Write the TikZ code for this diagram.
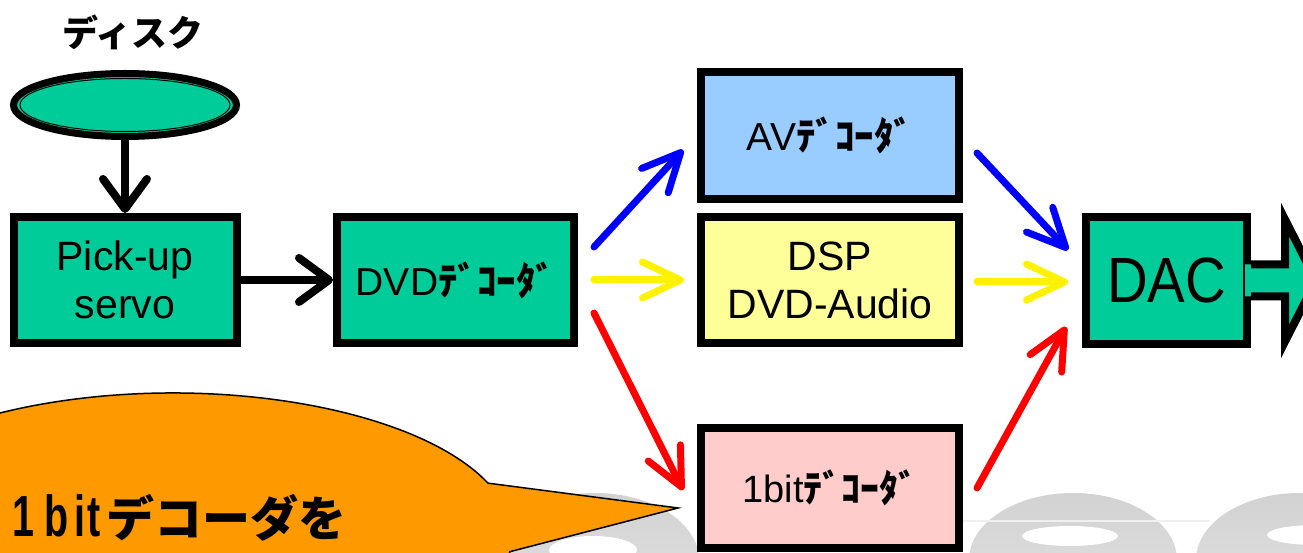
\documentclass[tikz,border=0pt]{standalone}
\usepackage{fontspec}
\usetikzlibrary{shapes.geometric,arrows.meta,calc}
\setmainfont{Liberation Sans}
\newfontfamily\jp{Noto Sans CJK JP}
\newfontfamily\cond[FakeStretch=0.68]{Liberation Sans}
\newfontfamily\dacfont[FakeStretch=0.88]{Liberation Sans}

\definecolor{boxgreen}{HTML}{00CC99}
\definecolor{avblue}{HTML}{99CCFF}
\definecolor{dspyellow}{HTML}{FFFF99}
\definecolor{bitpink}{HTML}{FFCCCC}
\definecolor{calloutorange}{HTML}{FF9900}
\definecolor{ringgreytop}{HTML}{D2D2D2}
\definecolor{ringgreybot}{HTML}{E4E4E4}

\tikzset{
  blockbox/.style={draw=black, line width=8pt, rectangle, inner sep=0pt,
    align=center, font=\fontsize{41}{48}\selectfont},
  blackflow/.style={line width=8pt, line cap=round, draw=black,
    -{Straight Barb[length=30pt, width=44pt, round]}},
  colorflow/.style={line width=7pt, line cap=round,
    -{Straight Barb[length=38pt, width=36pt, round]}},
  ring/.style={top color=ringgreytop, bottom color=ringgreybot, draw=none},
}
\newcommand{\hw}[1]{{\jp\bfseries #1}}

\begin{document}
\begin{tikzpicture}[x=1pt, y=1pt]
  \useasboundingbox (0,0) rectangle (1303,553);
  \clip (0,0) rectangle (1303,553);
  \fill[white] (0,0) rectangle (1303,553);

  % grey disc logo along the bottom edge
  \shade[ring] (595,-7) ellipse[x radius=104pt, y radius=67pt];
  \shade[ring] (1073,-7) ellipse[x radius=104pt, y radius=67pt];
  \shade[ring] (1300,-7) ellipse[x radius=104pt, y radius=67pt];
  \fill[white] (593,3) ellipse[x radius=44pt, y radius=14pt];
  \fill[white] (1070,17) ellipse[x radius=48pt, y radius=10pt];
  \fill[white] (1315,18) ellipse[x radius=48pt, y radius=10pt];
  \draw[black!6, line width=1.5pt] (962,32) -- (1210,32);

  % disc
  \node[font=\fontsize{36}{36}\selectfont] (disclabel) at (133,521) {\hw{ディスク}};
  \node[ellipse, draw=black, line width=7pt, fill=boxgreen, inner sep=0pt,
        minimum width=223pt, minimum height=63pt] (disk) at (125,448) {};
  \draw[line width=1pt] (disk.center) ellipse[x radius=105pt, y radius=26.5pt];

  % processing blocks
  \node[blockbox, fill=boxgreen, minimum width=223pt, minimum height=126pt]
    (pick) at (125,273) {Pick-up\\servo};
  \node[blockbox, fill=boxgreen, minimum width=237pt, minimum height=126pt,
        font=\fontsize{39}{39}\selectfont]
    (dvd) at (455.5,273) {DVD\hw{ﾃﾞｺｰﾀﾞ}};
  \node[blockbox, fill=avblue, minimum width=258pt, minimum height=127pt,
        font=\fontsize{39}{39}\selectfont]
    (av) at (830,417.5) {AV\hw{ﾃﾞｺｰﾀﾞ}};
  \node[blockbox, fill=dspyellow, minimum width=258pt, minimum height=126pt]
    (dsp) at (830,273) {DSP\\DVD-Audio};
  \node[blockbox, fill=bitpink, minimum width=258pt, minimum height=120pt,
        font=\fontsize{38}{38}\selectfont]
    (onebit) at (830,65) {1bit\hw{ﾃﾞｺｰﾀﾞ}};
  \node[blockbox, fill=boxgreen, minimum width=161pt, minimum height=127pt,
        font=\fontsize{64}{64}\dacfont]
    (dac) at (1166.5,272.5) {DAC};

  % output arrow leaving the DAC
  \fill[boxgreen] ([xshift=-6pt, yshift=16pt]dac.east) -- ++(40,0) -- ++(0,45)
    -- ([xshift=65pt]dac.east) -- ++(-31,-61) -- ++(0,45)
    -- ([xshift=-6pt, yshift=-16pt]dac.east) -- cycle;
  \draw[line width=8pt, line join=miter] ([yshift=16pt]dac.east) -- ++(34,0)
    -- ++(0,45) -- ([xshift=65pt]dac.east) -- ++(-31,-61) -- ++(0,45)
    -- ([yshift=-16pt]dac.east);

  % signal flow
  \draw[blackflow] (disk) -- (pick);
  \draw[blackflow] (pick) -- (dvd);
  \draw[colorflow, blue] ([xshift=16pt, yshift=33pt]dvd.east)
    -- ([xshift=-14pt, yshift=-14.5pt]av.west);
  \draw[colorflow, yellow] ([xshift=16pt]dvd.east) -- ([xshift=-13pt]dsp.west);
  \draw[colorflow, red] ([xshift=16pt, yshift=-33pt]dvd.east)
    -- ([xshift=-14pt, yshift=-2pt]onebit.west);
  \draw[colorflow, blue] ([xshift=14pt, yshift=-17.5pt]av.east)
    -- ([xshift=-14pt, yshift=30.5pt]dac.west);
  \draw[colorflow, yellow] ([xshift=14pt, yshift=-2pt]dsp.east)
    -- ([xshift=-14pt, yshift=-1.5pt]dac.west);
  \draw[colorflow, red] ([xshift=14pt]onebit.east)
    -- ([xshift=-16pt, yshift=-46.5pt]dac.west);

  % speech bubble
  \filldraw[fill=calloutorange, draw=black, line width=1.5pt]
    ($(173,17)+(21.7:339pt and 143pt)$)
    arc[start angle=21.7, end angle=353.7, x radius=339pt, y radius=143pt]
    -- (678,45) -- cycle;
  \node[anchor=base west, inner sep=0pt] (bubbletext) at (12,16)
    {\fontsize{58}{58}\cond\bfseries\makebox[32pt][l]{1}\makebox[30pt][l]{b}\makebox[13pt][l]{i}t\hspace{6pt}%
     \fontsize{48}{48}\hw{デコーダを}};
\end{tikzpicture}
\end{document}
